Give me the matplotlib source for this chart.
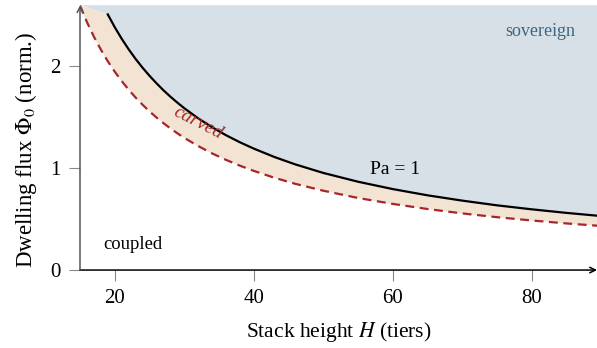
import matplotlib
matplotlib.use("Agg")
import matplotlib.pyplot as plt

plt.rcParams["font.family"] = ["Liberation Serif", "DejaVu Serif"]
plt.rcParams["mathtext.fontset"] = "stix"

# Stack height (tiers) and the two boundary curves
H_pa = [19, 20, 21, 22, 23, 24, 25, 26, 27, 28, 29, 30, 32, 34, 36, 38, 40,
        43, 46, 50, 55, 60, 65, 70, 75, 80, 85, 90]
phi_pa = [2.500, 2.375, 2.262, 2.159, 2.065, 1.979, 1.900, 1.827, 1.759,
          1.696, 1.638, 1.583, 1.484, 1.397, 1.319, 1.250, 1.188, 1.105,
          1.033, 0.950, 0.864, 0.792, 0.731, 0.679, 0.633, 0.594, 0.559,
          0.528]

H_carve = [15, 16, 17, 18, 19, 20, 21, 22, 23, 24, 25, 26, 27, 28, 29, 30,
           32, 34, 36, 38, 40, 43, 46, 50, 55, 60, 65, 70, 75, 80, 85, 90]
phi_carve = [2.587, 2.425, 2.282, 2.156, 2.042, 1.940, 1.848, 1.764, 1.687,
             1.617, 1.552, 1.492, 1.437, 1.386, 1.338, 1.293, 1.213, 1.141,
             1.078, 1.021, 0.970, 0.902, 0.843, 0.776, 0.705, 0.647, 0.597,
             0.554, 0.517, 0.485, 0.456, 0.431]

x_ticks = [20, 40, 60, 80]
y_ticks = [0, 1, 2]
x_min, x_max = 15, 89.4
y_min, y_max = 0, 2.59

blue = "#d7e0e6"
beige = "#f2e3d2"
red = "#a8262b"

fig = plt.figure(figsize=(5.97, 3.48), dpi=100)
ax = fig.add_axes([0.134, 0.224, 0.866, 0.761])

# sovereign region: above the Pa = 1 line
top_x = [x_min] + H_pa + [H_pa[-1]]
top_y = [y_max] + phi_pa + [y_max]
ax.fill(top_x, top_y, color=blue, lw=0)

# carved band: between dashed line and Pa = 1
band_x = H_carve + H_pa[::-1]
band_y = phi_carve + phi_pa[::-1]
ax.fill(band_x, band_y, color=beige, lw=0)

ax.plot(H_pa, phi_pa, color="black", lw=1.6)
ax.plot(H_carve, phi_carve, color=red, lw=1.6, ls=(0, (4, 2.5)))

ax.text(32, 1.44, "carved", color=red, style="italic", fontsize=14,
        rotation=-27, ha="center", va="center")
ax.text(60.3, 0.98, "Pa = 1", fontsize=14, ha="center", va="center")
ax.text(81.3, 2.33, "sovereign", fontsize=13, color="#3b6683",
        ha="center", va="center")
ax.text(22.6, 0.25, "coupled", fontsize=13.4, ha="center", va="center")

ax.set_xlim(x_min, x_max)
ax.set_ylim(y_min, y_max)
ax.set_xticks(x_ticks)
ax.set_yticks(y_ticks)
ax.tick_params(length=8, width=0.8, color="#888888", labelsize=15, pad=6)

for s in ["top", "right", "left", "bottom"]:
    ax.spines[s].set_visible(False)

# axis lines with arrow heads
ax.annotate("", xy=(1.0, 0), xytext=(0, 0), xycoords="axes fraction",
            arrowprops=dict(arrowstyle="->", lw=1.1, color="black",
                            shrinkA=0, shrinkB=0))
ax.annotate("", xy=(0, 1.0), xytext=(0, 0), xycoords="axes fraction",
            arrowprops=dict(arrowstyle="->", lw=1.1, color="#555555",
                            shrinkA=0, shrinkB=0))

ax.set_xlabel(r"Stack height $H$ (tiers)", fontsize=15.5, labelpad=8)
ax.set_ylabel(r"Dwelling flux $\Phi_0$ (norm.)", fontsize=16.5)
ax.yaxis.set_label_coords(-0.08, 0.455)

fig.savefig("out.png", dpi=100)
